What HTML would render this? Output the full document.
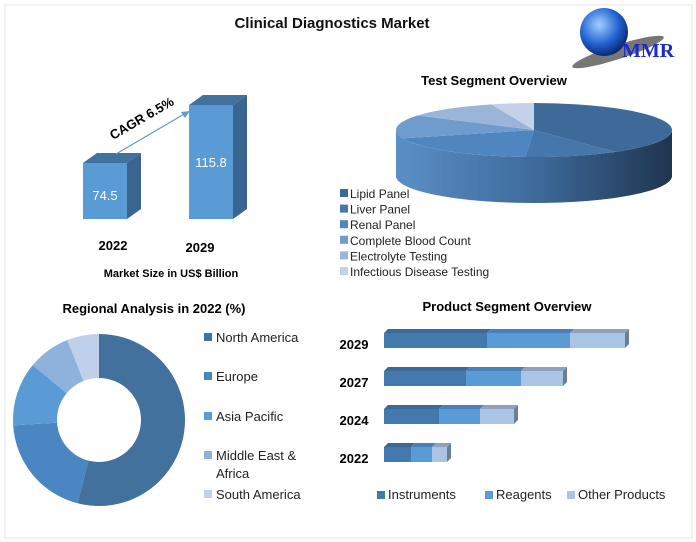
<!DOCTYPE html>
<html><head><meta charset="utf-8"><style>
body{margin:0;background:#fff;}
svg{display:block;font-family:"Liberation Sans",sans-serif;}
</style></head><body>
<svg id="c" width="696" height="542" xmlns="http://www.w3.org/2000/svg">
<defs>
<linearGradient id="side" x1="0" x2="1" y1="0" y2="0"><stop offset="0" stop-color="#5a8fc6"/><stop offset="0.5" stop-color="#3e6b9c"/><stop offset="1" stop-color="#1f354f"/></linearGradient>
<radialGradient id="globe" cx="0.4" cy="0.35" r="0.7"><stop offset="0" stop-color="#9fd0ff"/><stop offset="0.6" stop-color="#1f5fd0"/><stop offset="1" stop-color="#08205e"/></radialGradient>
</defs>
<rect x="5" y="5" width="687" height="533" fill="#fff" stroke="#e6e6e6"/>
<text x="332" y="28" text-anchor="middle" font-size="15" font-weight="bold" fill="#111">Clinical Diagnostics Market</text>
<g>
<ellipse cx="618" cy="52" rx="48" ry="7" fill="#777" transform="rotate(-18 618 52)"/>
<circle cx="604" cy="32" r="24" fill="url(#globe)"/>
<text x="622" y="57" font-family="Liberation Serif,serif" font-weight="bold" font-size="20" fill="#1a2bc8">MMR</text>
</g>
<g id="mk"></g>
<text x="113" y="250" text-anchor="middle" font-size="13" font-weight="bold">2022</text>
<text x="200" y="252" text-anchor="middle" font-size="13" font-weight="bold">2029</text>
<text x="171" y="277" text-anchor="middle" font-size="11" font-weight="bold">Market Size in US$  Billion</text>
<line x1="116" y1="154" x2="186" y2="113" stroke="#5b9bd5" stroke-width="1.2"/>
<polygon points="190,111 181,112 185,118" fill="#5b9bd5"/>
<text x="113" y="140" font-size="13" font-weight="bold" transform="rotate(-30 113 140)">CAGR 6.5%</text>
<text x="494" y="85" text-anchor="middle" font-size="13" font-weight="bold">Test Segment Overview</text>
<text x="154" y="313" text-anchor="middle" font-size="13" font-weight="bold">Regional Analysis in 2022 (%)</text>
<text x="507" y="311" text-anchor="middle" font-size="13" font-weight="bold">Product Segment Overview</text>
</svg>
<script>
const marketYears=["2022","2029"];
const marketValues=[74.5,115.8];
const testCats=["Lipid Panel","Liver Panel","Renal Panel","Complete Blood Count","Electrolyte Testing","Infectious Disease Testing"];
const testShares=[40,11,19,14,11,5];
const regionCats=["North America","Europe","Asia Pacific","Middle East &|Africa","South America"];
const regionShares=[54,20,12,8,6];
const productYears=["2029","2027","2024","2022"];
const instruments=[103,82,55,27];
const reagents=[83,55,41,21];
const others=[55,42,34,15];
const productCats=["Instruments","Reagents","Other Products"];

const NS="http://www.w3.org/2000/svg";
const g=document.getElementById('mk');
function mk(t,a,p){const e=document.createElementNS(NS,t);for(const k in a)e.setAttribute(k,a[k]);(p||g).appendChild(e);return e;}

// market bars
const mBase=219, mScale=1.404, mOff=34.6;
const mY=v=>mBase-(v-mOff)*mScale;
const mX=[83,189];
marketValues.forEach((v,i)=>{
  const x=mX[i],y=mY(v),w=44,d=14,h=10;
  let e=mk('polygon',{points:`${x},${y} ${x+d},${y-h} ${x+w+d},${y-h} ${x+w},${y}`,fill:'#41719c'});
  
  e=mk('polygon',{points:`${x+w},${y} ${x+w+d},${y-h} ${x+w+d},${mBase-h} ${x+w},${mBase}`,fill:'#3a6590'});
  
  e=mk('rect',{x:x,y:y,width:w,height:mBase-y,fill:'#5b9bd5'});
  
  e=mk('text',{x:x+w/2,y:i==0?y+37:y+62,'text-anchor':'middle','font-size':'13',fill:'#fff'});
  e.textContent=v;
  
});

// 3D pie
const pcx=534,pcy=130,prx=138,pry=27,pd=46;
const pieCols=['#3d6a99','#4677ab','#4f86bf','#6f9bcd','#9bb5d9','#c3d2e8'];
const pt=a=>[pcx+prx*Math.cos(a),pcy+pry*Math.sin(a)];
let side=`M${pcx-prx},${pcy} A${prx},${pry} 0 0 0 ${pcx+prx},${pcy} L${pcx+prx},${pcy+pd} A${prx},${pry} 0 0 1 ${pcx-prx},${pcy+pd} Z`;
let e=mk('path',{d:side,fill:'url(#side)'});

let tot=testShares.reduce((a,b)=>a+b,0),ang=-Math.PI/2;
testShares.forEach((s,i)=>{
  const a2=ang+s/tot*2*Math.PI;const p1=pt(ang),p2=pt(a2);
  const large=(a2-ang)>Math.PI?1:0;
  e=mk('path',{d:`M${pcx},${pcy} L${p1[0]},${p1[1]} A${prx},${pry} 0 ${large} 1 ${p2[0]},${p2[1]} Z`,fill:pieCols[i]});
  
  ang=a2;
});
testCats.forEach((c,i)=>{
  const y=197+i*15.6;
  e=mk('rect',{x:340,y:y-8,width:8,height:8,fill:pieCols[i]});
  
  e=mk('text',{x:350,y:y+1,'font-size':'12',fill:'#222'});e.textContent=c;
  
});

// donut
const dcx=99,dcy=420,R=86,r=42;
const donCols=['#41719c','#4a86c2','#5b9bd5','#8fb2dc','#c0d0ea'];
tot=regionShares.reduce((a,b)=>a+b,0);ang=-Math.PI/2;
regionShares.forEach((s,i)=>{
  const a2=ang+s/tot*2*Math.PI,l=(a2-ang)>Math.PI?1:0;
  const c=Math.cos,n=Math.sin;
  e=mk('path',{d:`M${dcx+R*c(ang)},${dcy+R*n(ang)} A${R},${R} 0 ${l} 1 ${dcx+R*c(a2)},${dcy+R*n(a2)} L${dcx+r*c(a2)},${dcy+r*n(a2)} A${r},${r} 0 ${l} 0 ${dcx+r*c(ang)},${dcy+r*n(ang)} Z`,fill:donCols[i]});
  
  ang=a2;
});
const regY=[341,380,420,459,498];
regionCats.forEach((c,i)=>{
  const y=regY[i];
  e=mk('rect',{x:204,y:y-8,width:8,height:8,fill:donCols[i]});
  
  c.split('|').forEach((ln,j)=>{
    e=mk('text',{x:216,y:y+1+j*18,'font-size':'13',fill:'#222'});e.textContent=ln;
    
  });
});

// product stacked bars
const bx0=384,bScale=1.0;const bY=[333,371,409,447];
const segCols=['#4479ad','#5b9bd5','#a9c4e4'];const topCols=['#3b6a99','#4a80b8','#8ea3bb'];
productYears.forEach((yr,i)=>{
  const vals=[instruments[i],reagents[i],others[i]];let x=bx0;const y=bY[i],h=15,d=4;
  vals.forEach((v,k)=>{
    const w=v*bScale;
    e=mk('polygon',{points:`${x},${y} ${x+d},${y-d} ${x+w+d},${y-d} ${x+w},${y}`,fill:topCols[k]});
    
    e=mk('rect',{x:x,y:y,width:w,height:h,fill:segCols[k]});
    
    x+=w;
  });
  e=mk('polygon',{points:`${x},${y} ${x+d},${y-d} ${x+d},${y+h-d} ${x},${y+h}`,fill:'#6a7f96'});
  
  e=mk('text',{x:354,y:y+i*0+16,'text-anchor':'middle','font-size':'13','font-weight':'bold'});e.textContent=yr;
  
});
const legX=[377,485,567];
productCats.forEach((c,k)=>{
  e=mk('rect',{x:legX[k],y:491,width:8,height:8,fill:segCols[k]});
  
  e=mk('text',{x:legX[k]+11,y:499,'font-size':'13',fill:'#222'});e.textContent=c;
  
});
</script>
</body></html>
